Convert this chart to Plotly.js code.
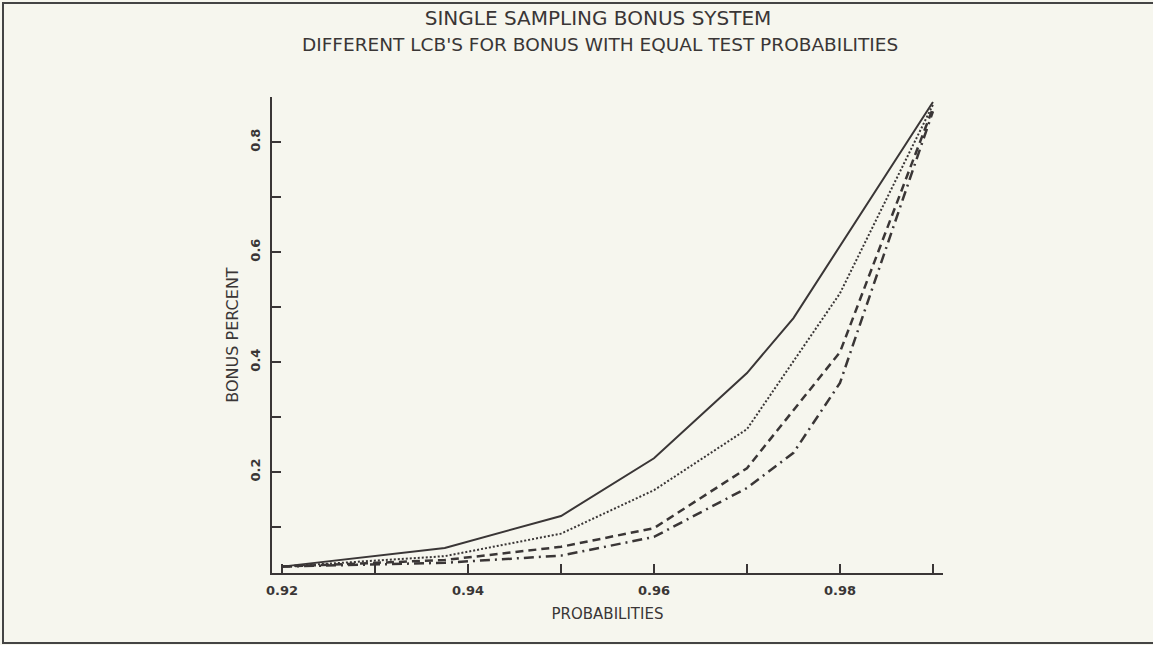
<!DOCTYPE html>
<html>
<head>
<meta charset="utf-8">
<script src="https://cdn.plot.ly/plotly-3.0.1.min.js"></script>
<style>
  html, body { margin: 0; padding: 0; background: #f6f6ee; }
  #chart { width: 1153px; height: 645px; }
  #frame { position: absolute; left: 2px; top: 2px; width: 1170px; height: 638px;
           border: 2px solid #444; pointer-events: none; }
</style>
</head>
<body>
<div id="chart"></div>
<div id="frame"></div>
<script>
// ---- data ----
const probSolid   = [0.92, 0.9375, 0.95, 0.96, 0.97, 0.975, 0.99];
const bonusSolid  = [0.028, 0.062, 0.120, 0.225, 0.380, 0.480, 0.873];

const probDotted  = [0.92, 0.9375, 0.95, 0.96, 0.97, 0.98, 0.99];
const bonusDotted = [0.028, 0.047, 0.088, 0.167, 0.278, 0.525, 0.868];

const probDashed  = [0.92, 0.9375, 0.95, 0.96, 0.97, 0.98, 0.99];
const bonusDashed = [0.028, 0.040, 0.064, 0.098, 0.207, 0.418, 0.862];

const probDashDot  = [0.92, 0.9375, 0.95, 0.96, 0.97, 0.975, 0.98, 0.99];
const bonusDashDot = [0.028, 0.035, 0.048, 0.082, 0.171, 0.235, 0.362, 0.856];

const xTickVals = [0.92, 0.93, 0.94, 0.95, 0.96, 0.97, 0.98, 0.99];
const xTickText = ['0.92', '', '0.94', '', '0.96', '', '0.98', ''];
const yTickVals = [0.1, 0.2, 0.3, 0.4, 0.5, 0.6, 0.7, 0.8];
const yTickText = ['', '0.2', '', '0.4', '', '0.6', '', '0.8'];

const titleText = 'SINGLE SAMPLING BONUS SYSTEM';
const subtitleText = "DIFFERENT LCB'S FOR BONUS WITH EQUAL TEST PROBABILITIES";
const xTitle = 'PROBABILITIES';
const yTitle = 'BONUS PERCENT';
// ----------------------------------------------

const ink = '#3a3636';
const mk = (x, y, dash, w) => ({
  x: x, y: y, type: 'scatter', mode: 'lines',
  line: { color: ink, width: w, dash: dash },
  hoverinfo: 'skip', showlegend: false
});

const traces = [
  mk(probSolid, bonusSolid, 'solid', 2),
  mk(probDotted, bonusDotted, '2px,2px', 2),
  mk(probDashed, bonusDashed, '8px,5px', 2.5),
  mk(probDashDot, bonusDashDot, '10px,5px,2px,5px', 2.5)
];

const tickFont = { family: 'DejaVu Sans', size: 13, color: ink, weight: 'bold' };
const titleFont = { family: 'DejaVu Sans', color: ink };

const layout = {
  width: 1153, height: 645,
  paper_bgcolor: '#f6f6ee', plot_bgcolor: '#f6f6ee',
  margin: { l: 272, r: 210, t: 97, b: 72 },
  showlegend: false,
  title: {
    text: titleText, x: 0.5187, xref: 'container', xanchor: 'center',
    y: 1 - 18 / 645, yref: 'container', yanchor: 'middle',
    font: Object.assign({ size: 20 }, titleFont)
  },
  annotations: [{
    text: subtitleText, xref: 'paper', yref: 'paper',
    x: 0.489, y: (573 - 45) / 476, xanchor: 'center', yanchor: 'middle',
    showarrow: false, font: Object.assign({ size: 18.5 }, titleFont)
  }],
  xaxis: {
    range: [0.91892, 0.99108],
    tickmode: 'array', tickvals: xTickVals, ticktext: xTickText,
    ticks: 'inside', ticklen: 9, tickwidth: 1.5, tickcolor: ink,
    showline: true, linecolor: ink, linewidth: 2, mirror: false,
    showgrid: false, zeroline: false,
    tickfont: tickFont, ticklabelstandoff: 4,
    title: { text: xTitle, font: Object.assign({ size: 15 }, titleFont), standoff: 12 }
  },
  yaxis: {
    range: [0.0164, 0.882],
    tickmode: 'array', tickvals: yTickVals, ticktext: yTickText,
    ticks: 'inside', ticklen: 9, tickwidth: 1.5, tickcolor: ink,
    showline: true, linecolor: ink, linewidth: 2, mirror: false,
    showgrid: false, zeroline: false,
    tickangle: -90,
    tickfont: tickFont, ticklabelstandoff: 5,
    title: { text: yTitle, font: Object.assign({ size: 16 }, titleFont), standoff: 5 }
  }
};

Plotly.newPlot('chart', traces, layout, { staticPlot: true, displayModeBar: false });
</script>
</body>
</html>
